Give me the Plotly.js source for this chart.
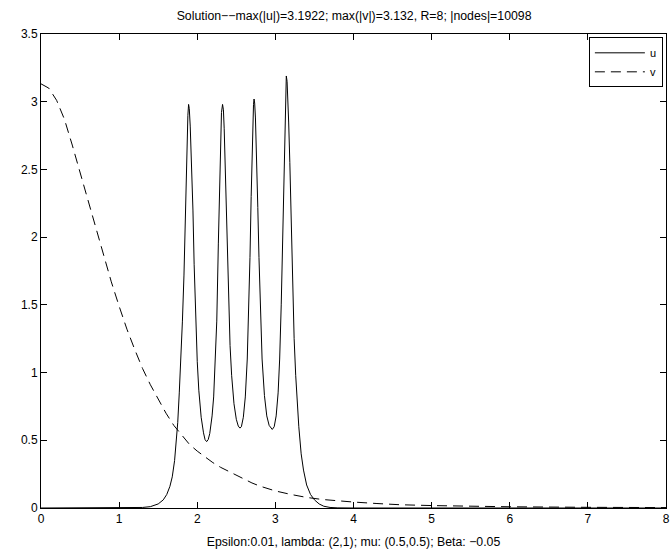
<!DOCTYPE html>
<html>
<head>
<meta charset="utf-8">
<script src="https://cdn.plot.ly/plotly-3.0.1.min.js"></script>
<style>html,body{margin:0;padding:0;background:#fff;}#chart{width:670px;height:552px;}</style>
</head>
<body>
<div id="chart"></div>
<script>
// u: solid curve (four peaks)
const uX = [0, 0.5, 1.0, 1.2, 1.3, 1.4, 1.5, 1.565, 1.61, 1.65, 1.68, 1.71, 1.73, 1.75, 1.77, 1.79, 1.81, 1.83, 1.845, 1.86, 1.87, 1.88, 1.889,
  1.898, 1.91, 1.928, 1.945, 1.96, 1.98, 2.00, 2.02, 2.05, 2.08, 2.10, 2.12,
  2.14, 2.16, 2.19, 2.21, 2.23, 2.25, 2.27, 2.28, 2.29, 2.30, 2.31, 2.324,
  2.335, 2.345, 2.355, 2.37, 2.385, 2.40, 2.42, 2.44, 2.47, 2.50, 2.525, 2.546,
  2.565, 2.59, 2.615, 2.64, 2.66, 2.675, 2.69, 2.70, 2.71, 2.72, 2.727,
  2.735, 2.745, 2.76, 2.775, 2.79, 2.81, 2.83, 2.86, 2.89, 2.92, 2.96,
  2.985, 3.01, 3.035, 3.055, 3.075, 3.09, 3.10, 3.11, 3.12, 3.13, 3.14,
  3.15, 3.16, 3.17, 3.185, 3.20, 3.22, 3.24, 3.26, 3.28, 3.30, 3.33, 3.36, 3.40, 3.45, 3.50, 3.56, 3.62, 3.70, 3.80, 4.0, 8.0];
const uY = [0, 0, 0, 0.001, 0.004, 0.01, 0.03, 0.06, 0.1, 0.16, 0.23, 0.35, 0.47, 0.63, 0.85, 1.08, 1.38, 1.72, 2.1, 2.5, 2.72, 2.9, 2.98,
  2.95, 2.82, 2.55, 2.2, 1.8, 1.4, 1.08, 0.87, 0.67, 0.555, 0.505, 0.49,
  0.505, 0.55, 0.68, 0.82, 1.05, 1.38, 1.95, 2.2, 2.55, 2.78, 2.92, 2.98,
  2.94, 2.8, 2.57, 2.2, 1.85, 1.55, 1.2, 0.98, 0.77, 0.655, 0.605, 0.59,
  0.6, 0.67, 0.82, 1.1, 1.45, 1.85, 2.3, 2.62, 2.85, 2.98, 3.02,
  2.99, 2.88, 2.6, 2.22, 1.85, 1.42, 1.1, 0.83, 0.68, 0.61, 0.58,
  0.6, 0.68, 0.85, 1.1, 1.5, 1.9, 2.25, 2.6, 2.88, 3.1, 3.19,
  3.15, 3.03, 2.85, 2.55, 2.15, 1.65, 1.25, 0.98, 0.78, 0.6, 0.4, 0.28, 0.17, 0.1, 0.06, 0.03, 0.013, 0.004, 0.001, 0, 0];

// v: dashed curve
const vX = [0, 0.1, 0.2, 0.3, 0.4, 0.5, 0.6, 0.7, 0.8, 0.9, 1.0, 1.1, 1.2, 1.3, 1.4, 1.5, 1.6, 1.7, 1.8, 1.9, 2.0, 2.1, 2.2, 2.3, 2.4, 2.5, 2.6, 2.7, 2.8, 2.9, 3.0, 3.2, 3.4, 3.6, 3.8, 4.0, 4.3, 4.6, 5.0, 5.5, 6.0, 7.0, 8.0];
const vY = [3.132, 3.10, 3.01, 2.87, 2.68, 2.48, 2.29, 2.09, 1.88, 1.67, 1.49, 1.32, 1.17, 1.03, 0.91, 0.80, 0.70, 0.61, 0.54, 0.47, 0.42, 0.375, 0.335, 0.30, 0.27, 0.24, 0.21, 0.185, 0.162, 0.143, 0.126, 0.10, 0.078, 0.063, 0.052, 0.044, 0.033, 0.024, 0.018, 0.013, 0.009, 0.005, 0.003];

const xTicks = [0, 1, 2, 3, 4, 5, 6, 7, 8];
const yTicks = [0, 0.5, 1, 1.5, 2, 2.5, 3, 3.5];
const titleText = 'Solution\u2212\u2212max(|u|)=3.1922; max(|v|)=3.132, R=8; |nodes|=10098';
const xLabel = 'Epsilon:0.01, lambda: (2,1); mu: (0.5,0.5); Beta: \u22120.05';

const FONT = 'Liberation Sans, Arial, Helvetica, sans-serif';

const traces = [
  {x: uX, y: uY, name: 'u', mode: 'lines', line: {color: '#000', width: 1}},
  {x: vX, y: vY, name: 'v', mode: 'lines', line: {color: '#000', width: 1, dash: '10px,6px'}}
];

const axisCommon = {
  showline: true, linecolor: '#000', linewidth: 1, mirror: 'ticks',
  ticks: 'inside', ticklen: 6, tickcolor: '#000', tickwidth: 1,
  showgrid: false, zeroline: false,
  tickfont: {family: FONT, size: 12, color: '#000'}
};

const layout = {
  width: 670, height: 552,
  paper_bgcolor: '#fff', plot_bgcolor: '#fff',
  margin: {l: 41, r: 4, t: 34, b: 44},
  title: {text: titleText, font: {family: FONT, size: 12.3, color: '#000'}, x: 0.5285, xanchor: 'center', y: 0.972, yanchor: 'middle', yref: 'container'},
  xaxis: Object.assign({}, axisCommon, {range: [0, 8], tickvals: xTicks, ticktext: xTicks.map(String),
    title: {text: xLabel, font: {family: FONT, size: 12.3, color: '#000'}, standoff: 11}}),
  yaxis: Object.assign({}, axisCommon, {range: [0, 3.5], tickvals: yTicks, ticktext: yTicks.map(String)}),
  showlegend: true,
  legend: {x: 0.995, xanchor: 'right', y: 0.993, yanchor: 'top', bgcolor: '#fff', bordercolor: '#000', borderwidth: 1,
    font: {family: FONT, size: 11, color: '#000'}, tracegroupgap: 0, itemwidth: 50}
};

Plotly.newPlot('chart', traces, layout, {displayModeBar: false, staticPlot: true});
</script>
</body>
</html>
